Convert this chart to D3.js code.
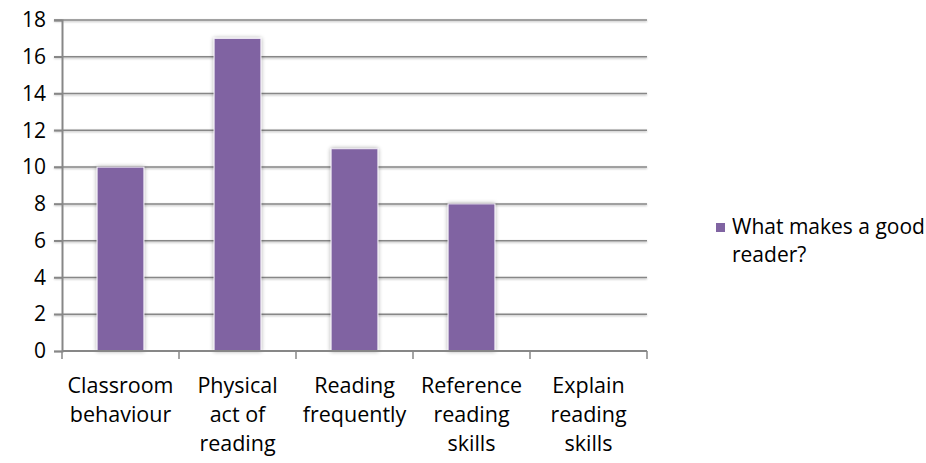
<!DOCTYPE html>
<html>
<head>
<meta charset="utf-8">
<script src="https://cdn.jsdelivr.net/npm/d3@7"></script>
<style>
  html, body { margin: 0; padding: 0; background: #fff; }
  svg { display: block; font-family: "Open Sans", sans-serif; }
</style>
</head>
<body>
<svg id="chart" width="926" height="463"></svg>
<script>
// Survey categories (each label split into display lines)
const categories = [
  "Classroom behaviour",
  "Physical act of reading",
  "Reading frequently",
  "Reference reading skills",
  "Explain reading skills"
];
const categoryLines = [
  ["Classroom", "behaviour"],
  ["Physical", "act of", "reading"],
  ["Reading", "frequently"],
  ["Reference", "reading", "skills"],
  ["Explain", "reading", "skills"]
];
const values = [10, 17, 11, 8, 0];
const yTicks = [0, 2, 4, 6, 8, 10, 12, 14, 16, 18];
const seriesName = ["What makes a good", "reader?"];

const svg = d3.select("#chart");
const margin = { left: 62, right: 279, top: 20, bottom: 112 };
const W = 926, H = 463;
const x0 = margin.left, x1 = W - margin.right;
const y0 = H - margin.bottom, y1 = margin.top;
const FONT = "'Open Sans', sans-serif";

const x = d3.scaleBand().domain(categories).range([x0, x1]).paddingInner(0.6).paddingOuter(0.3);
const xEdge = d3.scaleBand().domain(categories).range([x0, x1]);
const y = d3.scaleLinear().domain([0, 18]).range([y0, y1]);

const defs = svg.append("defs");
const glow = defs.append("filter").attr("id", "glow")
  .attr("x", "-30%").attr("y", "-10%").attr("width", "160%").attr("height", "120%");
glow.append("feGaussianBlur").attr("in", "SourceAlpha").attr("stdDeviation", 2.2).attr("result", "b");
glow.append("feComponentTransfer").attr("in", "b").attr("result", "s")
  .append("feFuncA").attr("type", "linear").attr("slope", 0.35);
const m = glow.append("feMerge");
m.append("feMergeNode").attr("in", "s");
m.append("feMergeNode").attr("in", "SourceGraphic");

const lineShadow = defs.append("filter").attr("id", "lshadow")
  .attr("x", "-5%").attr("y", "-200%").attr("width", "110%").attr("height", "500%");
lineShadow.append("feGaussianBlur").attr("in", "SourceAlpha").attr("stdDeviation", 0.8).attr("result", "b");
lineShadow.append("feOffset").attr("in", "b").attr("dy", 1.2).attr("result", "o");
lineShadow.append("feComponentTransfer").attr("in", "o").attr("result", "s")
  .append("feFuncA").attr("type", "linear").attr("slope", 0.3);
const m2 = lineShadow.append("feMerge");
m2.append("feMergeNode").attr("in", "s");
m2.append("feMergeNode").attr("in", "SourceGraphic");

// Horizontal gridlines
svg.append("g").attr("filter", "url(#lshadow)")
  .selectAll("line").data(yTicks.filter(d => d > 0)).join("line")
  .attr("x1", x0 - 8).attr("x2", x1)
  .attr("y1", d => y(d)).attr("y2", d => y(d))
  .attr("stroke", "#878787").attr("stroke-width", 1.5);

// Y axis
const yAxis = svg.append("g").attr("transform", `translate(${x0},0)`)
  .call(d3.axisLeft(y).tickValues(yTicks).tickSize(8).tickPadding(8));
yAxis.select(".domain").attr("stroke", "#878787").attr("stroke-width", 2);
yAxis.selectAll(".tick line").attr("stroke", "#878787").attr("stroke-width", 1.5);
yAxis.selectAll(".tick text").attr("fill", "#000").attr("font-size", 21)
  .attr("font-family", FONT);

// Bars
svg.append("g").selectAll("rect").data(values).join("rect")
  .attr("x", (d, i) => x(categories[i]))
  .attr("width", x.bandwidth())
  .attr("y", d => y(d))
  .attr("height", d => y0 - y(d))
  .attr("fill", "#8064a2")
  .attr("stroke", "#f2eef7").attr("stroke-width", 1)
  .attr("filter", "url(#glow)")
  .style("display", d => d > 0 ? null : "none");

// X axis
const xAxis = svg.append("g").attr("transform", `translate(0,${y0})`);
xAxis.append("line").attr("x1", x0).attr("x2", x1).attr("y1", 0).attr("y2", 0)
  .attr("stroke", "#878787").attr("stroke-width", 2);
const edges = categories.map(c => xEdge(c)).concat([x1]);
xAxis.selectAll("line.tk").data(edges).join("line").attr("class", "tk")
  .attr("x1", d => d).attr("x2", d => d).attr("y1", 0).attr("y2", 8)
  .attr("stroke", "#878787").attr("stroke-width", 1.5);

// Category labels
const lbl = svg.append("g").selectAll("text").data(categoryLines).join("text")
  .attr("text-anchor", "middle").attr("font-size", 21.5).attr("fill", "#000")
  .attr("x", (d, i) => xEdge(categories[i]) + xEdge.bandwidth() / 2);
lbl.selectAll("tspan").data(d => d).join("tspan")
  .attr("x", function() { return d3.select(this.parentNode).attr("x"); })
  .attr("y", (d, j) => y0 + 42 + j * 29)
  .text(d => d);

// Legend
const lg = svg.append("g");
lg.append("rect").attr("x", 716).attr("y", 223).attr("width", 9).attr("height", 9).attr("fill", "#8064a2");
lg.append("text").attr("font-size", 21).attr("fill", "#000")
  .selectAll("tspan").data(seriesName).join("tspan")
  .attr("x", 732).attr("y", (d, j) => 234 + j * 28).text(d => d);
</script>
</body>
</html>
